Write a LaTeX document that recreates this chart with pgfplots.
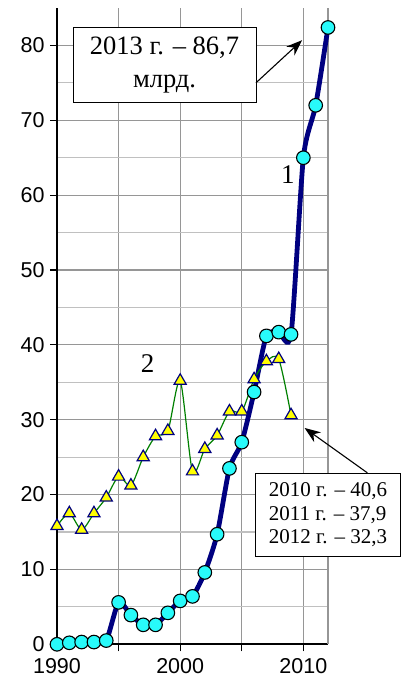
\documentclass[border=0pt]{standalone}
\usepackage{pgfplots}
\pgfplotsset{compat=1.18}
\usetikzlibrary{arrows.meta}
\usepackage{fontspec}
\setmainfont{Liberation Serif}
\newfontfamily\arialf{Liberation Sans}
\definecolor{navyc}{RGB}{0,0,128}
\definecolor{cyanc}{RGB}{40,250,250}
\definecolor{yellowc}{RGB}{255,255,0}
\definecolor{greenc}{RGB}{0,128,0}
\definecolor{gridmaj}{RGB}{150,150,150}
\definecolor{gridmin}{RGB}{192,192,192}
\begin{document}
\begin{tikzpicture}
\useasboundingbox (-57pt,-35.7pt) rectangle (344pt,644.3pt);
\begin{axis}[
  scale only axis, width=271pt, height=636.3pt,
  xmin=1990, xmax=2012, ymin=0, ymax=85,
  axis x line*=bottom, axis y line*=left,
  axis line style={line width=1.6pt, black},
  xtick={1990,1995,2000,2005,2010}, xticklabels={1990,,2000,,2010},
  ytick={0,10,...,80}, minor ytick={5,15,...,75},
  grid=both,
  major grid style={gridmaj, line width=1.1pt},
  minor grid style={gridmin, line width=1.1pt},
  minor y tick style={draw=none},
  tick align=outside,
  major tick length=7pt,
  tick style={black, line width=1.2pt},
  extra x ticks={2012}, extra x tick labels={},
  extra x tick style={grid=major, major tick length=0pt},
  ticklabel style={font=\arialf\fontsize{21.5}{24}\selectfont},
  xticklabel style={yshift=-4pt},
  yticklabel style={xshift=-2pt},
  /pgf/number format/assume math mode=true,
  xticklabel style={/pgf/number format/1000 sep={}},
  clip=false,
]
\addplot[navyc, line width=4.8pt, smooth, tension=0.4, mark=*, mark size=6.8pt,
  mark options={fill=cyanc, draw=black, line width=1.1pt}] coordinates {
 (1990,0) (1991,0.2) (1992,0.3) (1993,0.3) (1994,0.5) (1995,5.6) (1996,3.9)
 (1997,2.6) (1998,2.6) (1999,4.2) (2000,5.8) (2001,6.4) (2002,9.6) (2003,14.7)
 (2004,23.5) (2005,27.0) (2006,33.7) (2007,41.2) (2008,41.7) (2009,41.4)
 (2010,65.0) (2011,72.0) (2012,82.4)};
\addplot[greenc, line width=1.2pt, smooth, tension=0.45, mark=triangle*, mark size=7pt,
  mark options={fill=yellowc, draw=navyc, line width=1.2pt}] coordinates {
 (1990,15.8) (1991,17.5) (1992,15.3) (1993,17.5) (1994,19.6) (1995,22.4) (1996,21.2)
 (1997,25.0) (1998,27.8) (1999,28.5) (2000,35.2) (2001,23.1) (2002,26.1) (2003,27.9)
 (2004,31.1) (2005,31.1) (2006,35.4) (2007,37.8) (2008,38.1) (2009,30.6)};
\node[font=\fontsize{27}{27}\selectfont] at (axis cs:2008.75,62.7) {1};
\node[font=\fontsize{27}{27}\selectfont] at (axis cs:1997.35,37.5) {2};
\node[draw, line width=1pt, fill=white, minimum width=183pt, minimum height=75pt,
  align=center, inner sep=2pt, font=\fontsize{26.5}{33}\selectfont]
  at (axis cs:1998.73,77.45) {2013 г. – 86,7\\млрд.};
\draw[-{Stealth[length=16pt,width=12pt]}, line width=1.1pt]
  (axis cs:2006.15,75.0) -- (axis cs:2009.9,80.7);
\node[draw, line width=1pt, fill=white, minimum width=144pt, minimum height=83pt,
  align=left, inner sep=3pt, font=\fontsize{21}{23.7}\selectfont]
  at (axis cs:2012.0,17.3) {2010 г. – 40,6\\2011 г. – 37,9\\2012 г. – 32,3};
\draw[-{Stealth[length=16pt,width=12pt]}, line width=1.1pt]
  (axis cs:2015.2,22.9) -- (axis cs:2010.1,28.9);
\end{axis}
\end{tikzpicture}
\end{document}
